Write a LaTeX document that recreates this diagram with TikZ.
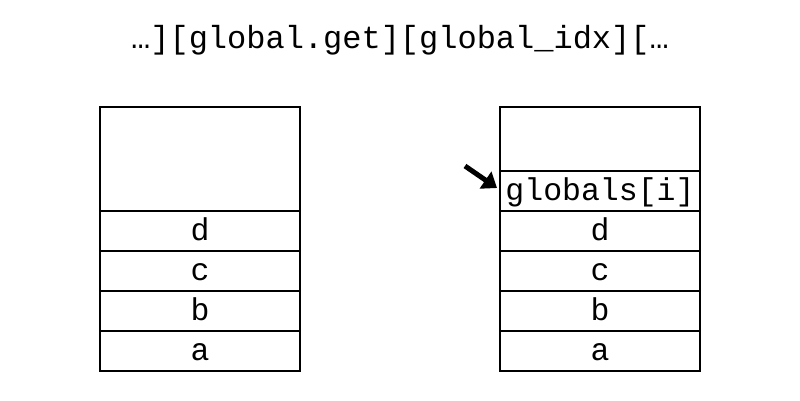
\documentclass[tikz,border=0pt]{standalone}
\usepackage{fontspec}
\setmonofont{Liberation Mono}
\usetikzlibrary{arrows.meta}
\begin{document}
\begin{tikzpicture}[x=1pt,y=-1pt,
  cell/.style={draw=black,line width=2pt,minimum width=200pt,inner sep=0pt,text height=22pt,text depth=4pt,font=\ttfamily\fontsize{31.5}{31.5}\selectfont,anchor=center},
  ptr/.style={line width=5pt,-{Triangle[length=14pt,width=20pt]}}]
\useasboundingbox (0,0) rectangle (800,400);
\node[font=\ttfamily\fontsize{32}{32}\selectfont] (title) at (400,40) {…][global.get][global\_idx][…};
% left stack
\node[cell,minimum height=104pt] (ltop) at (200,159) {};
\node[cell,minimum height=40pt] (ld) at (200,231) {d};
\node[cell,minimum height=40pt] (lc) at (200,271) {c};
\node[cell,minimum height=40pt] (lb) at (200,311) {b};
\node[cell,minimum height=40pt] (la) at (200,351) {a};
% right stack
\node[cell,minimum height=64pt] (rtop) at (600,139) {};
\node[cell,minimum height=40pt] (rg) at (600,191) {globals[i]};
\node[cell,minimum height=40pt] (rd) at (600,231) {d};
\node[cell,minimum height=40pt] (rc) at (600,271) {c};
\node[cell,minimum height=40pt] (rb) at (600,311) {b};
\node[cell,minimum height=40pt] (ra) at (600,351) {a};
\coordinate (pstart) at (465,166);
\coordinate (pend) at (497,188);
\draw[ptr] (pstart) -- (pend);
\end{tikzpicture}
\end{document}
